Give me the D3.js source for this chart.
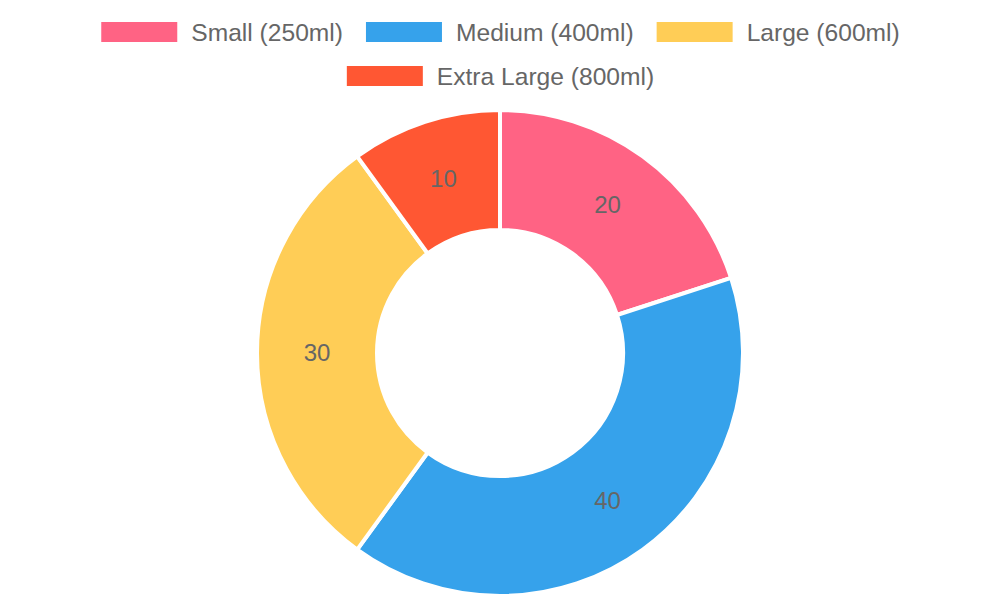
<!DOCTYPE html>
<html><head><meta charset="utf-8">
<script src="https://cdn.jsdelivr.net/npm/d3@7"></script>
<style>body{margin:0;background:#fff}svg{display:block}</style>
</head><body>
<svg id="chart" width="1000" height="600"></svg>
<script>
const categories = ["Small (250ml)", "Medium (400ml)", "Large (600ml)", "Extra Large (800ml)"];
const values = [20, 40, 30, 10];
const colors = ["#ff6384", "#36a2eb", "#ffcd56", "#ff5733"];

const svg = d3.select("#chart");
const font = "'Liberation Sans', Arial, Helvetica, sans-serif";

// Legend
const boxW = 76, boxH = 20, boxGap = 14, itemGap = 23;
const rows = [[0,1,2],[3]];
const rowY = [32, 76];
const legend = svg.append("g");
rows.forEach((row, ri) => {
  const items = row.map(i => {
    const g = legend.append("g");
    g.append("rect").attr("width", boxW).attr("height", boxH).attr("y", -boxH/2).attr("fill", colors[i]);
    const t = g.append("text").attr("x", boxW + boxGap).attr("dy", "0.35em")
      .attr("font-family", font).attr("font-size", 24.6).attr("fill", "#666").text(categories[i]);
    const w = boxW + boxGap + t.node().getComputedTextLength();
    return {g, w};
  });
  const total = d3.sum(items, d => d.w) + itemGap * (items.length - 1);
  let x = 500.5 - total / 2;
  items.forEach(it => { it.g.attr("transform", `translate(${x},${rowY[ri]})`); x += it.w + itemGap; });
});

// Donut
const cx = 500, cy = 353, outerR = 243, innerR = 123;
const pie = d3.pie().sort(null).value(d => d);
const arc = d3.arc().innerRadius(innerR).outerRadius(outerR);
const labelArc = d3.arc().innerRadius((innerR + outerR) / 2).outerRadius((innerR + outerR) / 2);
const g = svg.append("g").attr("transform", `translate(${cx},${cy})`);
const arcs = pie(values);
g.selectAll("path").data(arcs).join("path")
  .attr("d", arc).attr("fill", (d, i) => colors[i])
  .attr("stroke", "#fff").attr("stroke-width", 4).attr("stroke-linejoin", "round");
g.selectAll("text").data(arcs).join("text")
  .attr("transform", d => `translate(${labelArc.centroid(d)})`)
  .attr("text-anchor", "middle").attr("dy", "0.35em")
  .attr("font-family", font).attr("font-size", 24).attr("fill", "#666")
  .text(d => d.data);
</script>
</body></html>
